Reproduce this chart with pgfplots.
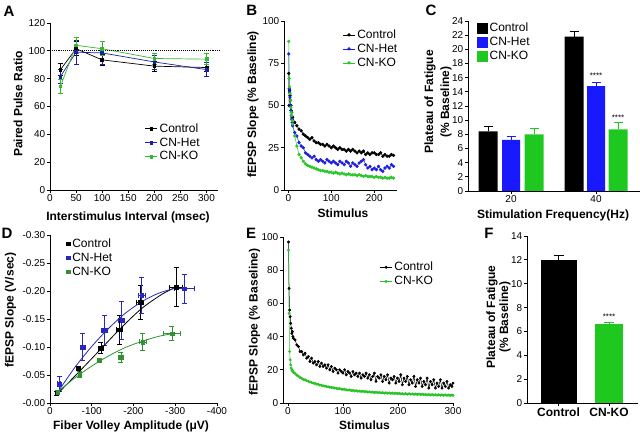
\documentclass[border=0pt]{standalone}
\usepackage{fontspec}
\setmainfont{Liberation Sans}
\usepackage{pgfplots}
\pgfplotsset{compat=1.18}
\definecolor{hetA}{RGB}{30,30,160}
\definecolor{koA}{RGB}{50,185,50}
\definecolor{hetB}{RGB}{30,30,225}
\definecolor{koB}{RGB}{40,200,40}
\definecolor{hetC}{RGB}{25,25,255}
\definecolor{koC}{RGB}{30,200,30}
\definecolor{hetD}{RGB}{40,40,190}
\definecolor{koD}{RGB}{50,145,50}
\definecolor{koE}{RGB}{40,195,40}
\pgfplotsset{
  prism/.style={
    scale only axis, anchor=south west,
    axis lines=left,
    axis line style={-, line width=0.9pt},
    tick align=outside,
    major tick length=3pt,
    every tick/.style={black, line width=0.9pt},
    tick label style={font=\fontsize{10}{12}\selectfont, inner sep=1.5pt},
    /pgf/number format/assume math mode=true,
    legend style={draw=none, fill=none, font=\fontsize{12}{13.5}\selectfont, inner sep=0pt, outer sep=0pt, row sep=0pt},
    legend cell align=left,
    clip=false,
    error bars/error mark=|,
    error bars/error bar style={line width=0.8pt},
    error bars/error mark options={line width=0.8pt, mark size=2.5pt},
  },
}
\newcommand{\lab}{\fontsize{12}{14}\selectfont\bfseries}
\newcommand{\pl}{\fontsize{15}{16}\selectfont\bfseries}
\begin{document}
\begin{tikzpicture}
\useasboundingbox (0pt,0pt) rectangle (640pt,434pt);
%%%%%%%%%%%%%%%% A
\begin{axis}[prism, at={(50pt,244pt)}, width=168pt, height=167pt,
  xmin=0, xmax=322, ymin=0, ymax=120,
  xtick={0,50,...,300}, ytick={0,20,...,120},
  legend style={at={(0.565,0.41)}, anchor=north west},
  legend image code/.code={\draw[mark repeat=2,mark phase=2,#1] plot coordinates {(0pt,0pt) (6pt,0pt) (12pt,0pt)};}]
\addplot[black, line width=0.7pt, mark=square*, mark size=1.4pt, error bars/.cd, y dir=both, y explicit]
 coordinates {(20,86.5) +- (0,4.5) (50,101.5) +- (0,5) (100,93.5) +- (0,4) (200,89) +- (0,3.5) (300,88) +- (0,2.5)};
\addplot[hetA, line width=0.7pt, mark=square*, mark size=1.4pt, error bars/.cd, y dir=both, y explicit]
 coordinates {(20,81.5) +- (0,5) (50,99) +- (0,8.5) (100,98.5) +- (0,8.5) (200,92) +- (0,5) (300,86.5) +- (0,5)};
\addplot[koA, line width=0.7pt, mark=square*, mark size=1.4pt, error bars/.cd, y dir=both, y explicit]
 coordinates {(20,74.5) +- (0,5) (50,104) +- (0,6) (100,101.5) +- (0,5) (200,94.5) +- (0,4) (300,94) +- (0,4)};
\addplot[black, densely dotted, line width=0.9pt, forget plot] coordinates {(0,100) (325,100)};
\legend{Control,CN-Het,CN-KO}
\end{axis}
%%%%%%%%%%%%%%%% B
\begin{axis}[prism, at={(284pt,244pt)}, width=113pt, height=169pt,
  xmin=-10, xmax=253, ymin=0, ymax=100,
  xtick={0,100,200}, ytick={0,25,50,75,100},
  legend style={at={(0.52,0.96)}, anchor=north west},
  legend image code/.code={\draw[mark repeat=2,mark phase=2,#1] plot coordinates {(0pt,0pt) (6pt,0pt) (12pt,0pt)};}]
\addplot[black, line width=0.5pt, mark=*, mark size=1.4pt] coordinates {
(1,69) (2,50) (3,59) (4,56) (5,53) (6,50) (7,47) (8,46) (9,43) (10,43) (15,40) (20,38) (25,36) (30,35) (35,33) (40,32) (45,31) (50,30) (55,31) (60,29) (65,28) (70,28) (75,27) (80,27) (85,26) (90,27) (95,26) (100,25) (105,26) (110,25) (115,24) (120,25) (125,24) (130,24) (135,23) (140,24) (145,23) (150,24) (155,23) (160,22) (165,23) (170,22) (175,23) (180,21) (185,22) (190,21) (195,22) (200,22) (205,21) (210,21) (215,22) (220,20) (225,21) (230,20) (235,20) (240,21) (245,20.5)};
\addplot[hetB, line width=0.5pt, mark=*, mark size=1.4pt] coordinates {
(1,80.5) (2,60) (3,58) (4,55) (5,50) (6,47) (7,44) (8,42) (9,40) (10,38) (15,34) (20,32) (25,28) (30,26) (35,25) (40,22) (45,21) (50,20) (55,19) (60,20) (65,18) (70,17) (75,18) (80,17) (85,16) (90,18) (95,17) (100,16) (105,17) (110,16) (115,15) (120,17) (125,16) (130,15) (135,17) (140,16) (145,14) (150,16) (155,15) (160,14) (165,16) (170,17) (175,18) (180,15) (185,13) (190,14) (195,12) (200,13) (205,12) (210,14) (215,12) (220,11) (225,13) (230,14) (235,13) (240,15) (245,14)};
\addplot[koB, line width=0.5pt, mark=*, mark size=1.4pt] coordinates {
(1,88) (2,66) (3,61) (4,57) (5,53) (6,49) (7,46) (8,44) (9,41) (10,39) (15,32) (20,26) (25,21) (30,19) (35,17) (40,15.5) (45,14.5) (50,14) (55,13.5) (60,13) (65,12.5) (70,12) (75,11.5) (80,11.5) (85,11) (90,11) (95,10.5) (100,10.5) (105,10) (110,10.5) (115,10) (120,9.5) (125,10) (130,9.5) (135,9) (140,9.5) (145,9) (150,9) (155,9) (160,8.5) (165,9) (170,8.5) (175,8) (180,8.5) (185,8) (190,8) (195,8) (200,7.5) (205,8) (210,7.5) (215,7.5) (220,7) (225,7.5) (230,7) (235,7) (240,7.5) (245,7)};
\legend{Control,CN-Het,CN-KO}
\end{axis}
%%%%%%%%%%%%%%%% C
\begin{axis}[prism, at={(468pt,243pt)}, width=172pt, height=170pt,
  xmin=0, xmax=172, ymin=0, ymax=24,
  xtick={43,128}, xticklabels={20,40}, ytick={0,2,...,24},
  legend style={at={(0.05,1.0)}, anchor=north west}]
\addplot[ybar, bar width=19, bar shift=0pt, fill=black, draw=none,
  legend image code/.code={\fill[black] (0pt,-5.5pt) rectangle (11pt,5.5pt);},
  error bars/.cd, y dir=plus, y explicit, error bar style={black, line width=0.8pt}, error mark options={black, line width=0.8pt, mark size=4.5pt}]
 coordinates {(20,8.4) +- (0,0.7) (106,21.8) +- (0,0.7)};
\addplot[ybar, bar width=18, bar shift=0pt, fill=hetC, draw=none,
  legend image code/.code={\fill[hetC] (0pt,-5.5pt) rectangle (11pt,5.5pt);},
  error bars/.cd, y dir=plus, y explicit, error bar style={hetC, line width=0.8pt}, error mark options={hetC, line width=0.8pt, mark size=4.5pt}]
 coordinates {(43,7.2) +- (0,0.45) (128,14.8) +- (0,0.6)};
\addplot[ybar, bar width=19, bar shift=0pt, fill=koC, draw=none,
  legend image code/.code={\fill[koC] (0pt,-5.5pt) rectangle (11pt,5.5pt);},
  error bars/.cd, y dir=plus, y explicit, error bar style={koC, line width=0.8pt}, error mark options={koC, line width=0.8pt, mark size=4.5pt}]
 coordinates {(66,8.0) +- (0,0.8) (150,8.7) +- (0,1.0)};
\node[font=\fontsize{8}{8}\selectfont] at (axis cs:128,16.3) {****};
\node[font=\fontsize{8}{8}\selectfont] at (axis cs:150,10.4) {****};
\legend{Control,CN-Het,CN-KO}
\end{axis}
%%%%%%%%%%%%%%%% D
\begin{axis}[prism, at={(50pt,31pt)}, width=167pt, height=168pt,
  x dir=reverse, y dir=reverse,
  xmin=-400, xmax=0, ymin=-0.30, ymax=0,
  xtick={0,-100,-200,-300,-400}, xticklabels={0,-100,-200,-300,-400},
  ytick={0,-0.05,-0.10,-0.15,-0.20,-0.25,-0.30},
  yticklabels={-0.00,-0.05,-0.10,-0.15,-0.20,-0.25,-0.30},
  legend style={at={(0.10,0.99)}, anchor=north west},
  legend image code/.code={\draw[#1] plot coordinates {(3pt,0pt)};}]
\addplot[black, only marks, mark=square*, mark size=1.8pt, error bars/.cd, x dir=both, x explicit, y dir=both, y explicit, error mark options={black, line width=0.8pt, mark size=2.5pt}]
 coordinates {(-16,-0.017) +- (3,0.003) (-68,-0.062) +- (4,0.004) (-122,-0.098) +- (6,0.010) (-166,-0.131) +- (7,0.026) (-216,-0.180) +- (8,0.030) (-302,-0.207) +- (15,0.035)};
\addplot[hetD, only marks, mark=square*, mark size=1.8pt, error bars/.cd, x dir=both, x explicit, y dir=both, y explicit, error mark options={hetD, line width=0.8pt, mark size=2.5pt}]
 coordinates {(-22,-0.034) +- (4,0.013) (-78,-0.100) +- (6,0.024) (-130,-0.130) +- (7,0.027) (-172,-0.148) +- (7,0.034) (-220,-0.192) +- (8,0.032) (-322,-0.204) +- (25,0.026)};
\addplot[koD, only marks, mark=square*, mark size=1.8pt, error bars/.cd, x dir=both, x explicit, y dir=both, y explicit, error mark options={koD, line width=0.8pt, mark size=2.5pt}]
 coordinates {(-18,-0.019) +- (3,0.003) (-71,-0.051) +- (4,0.005) (-118,-0.076) +- (5,0.004) (-170,-0.082) +- (5,0.009) (-222,-0.109) +- (8,0.015) (-292,-0.124) +- (20,0.013)};
\addplot[black, line width=0.8pt, smooth, forget plot] coordinates {(-20,-0.018) (-70,-0.056) (-120,-0.095) (-170,-0.134) (-220,-0.169) (-270,-0.195) (-300,-0.206)};
\addplot[hetD, line width=0.8pt, smooth, forget plot] coordinates {(-20,-0.021) (-60,-0.064) (-100,-0.101) (-140,-0.133) (-180,-0.160) (-220,-0.181) (-260,-0.196) (-300,-0.205)};
\addplot[koD, line width=0.8pt, smooth, forget plot] coordinates {(-20,-0.021) (-60,-0.045) (-100,-0.066) (-140,-0.084) (-180,-0.099) (-220,-0.110) (-260,-0.119) (-295,-0.124)};
\legend{Control,CN-Het,CN-KO}
\end{axis}
%%%%%%%%%%%%%%%% E
\begin{axis}[prism, at={(283pt,31pt)}, width=170pt, height=166pt,
  xmin=-9, xmax=300, ymin=0, ymax=100,
  xtick={0,100,200,300}, ytick={0,20,...,100},
  legend style={at={(0.57,0.86)}, anchor=north west},
  legend image code/.code={\draw[mark repeat=2,mark phase=2,#1] plot coordinates {(0pt,0pt) (6pt,0pt) (12pt,0pt)};}]
\addplot[black, line width=0.5pt, mark=*, mark size=1.2pt] coordinates {
(1,97) (2,69) (3,56) (4,52) (5,48) (6,45) (7,42) (8,43) (9,40) (10,39) (13,38) (16,35) (19,34) (22,31) (25,31) (28,29) (31,30) (34,27) (37,28) (40,25) (43,27) (46,24) (49,25) (52,23) (55,25) (58,22) (61,24) (64,22) (67,23) (70,21) (73,23) (76,20) (79,22) (82,19) (85,21) (88,20) (91,18) (94,20) (97,19) (100,18) (103,20) (106,17) (109,19) (112,18) (115,16) (118,19) (121,17) (124,18) (127,16) (130,18) (133,15) (136,17) (139,16) (142,18) (145,15) (148,17) (151,14) (154,16) (157,18) (160,13) (163,16) (166,15) (169,17) (172,13) (175,16) (178,14) (181,17) (184,12) (187,15) (190,14) (193,16) (196,12) (199,15) (202,13) (205,17) (208,11) (211,15) (214,13) (217,16) (220,11) (223,14) (226,12) (229,16) (232,10) (235,14) (238,12) (241,15) (244,10) (247,13) (250,11) (253,15) (256,9) (259,13) (262,11) (265,14) (268,9) (271,12) (274,10) (277,14) (280,9) (283,12) (286,10) (289,13) (292,9) (295,11) (298,10) (300,12)};
\addplot[koE, line width=0.5pt, mark=*, mark size=1.2pt] coordinates {
(1,92) (2,54) (3,31) (4,26) (5,23) (6,21) (7,20) (8,19.5) (9,19) (10,18.5) (13,17.8) (16,16.8) (19,16.2) (22,15.3) (25,14.9) (28,14.2) (31,14.0) (34,13.4) (37,13.1) (40,12.7) (43,12.4) (46,12.0) (49,11.8) (52,11.4) (55,11.2) (58,10.8) (61,10.7) (64,10.3) (67,10.2) (70,9.9) (73,9.8) (76,9.5) (79,9.4) (82,9.2) (85,9.0) (88,8.9) (91,8.6) (94,8.7) (97,8.3) (100,8.2) (103,8.3) (106,7.9) (109,7.8) (112,7.9) (115,7.5) (118,7.6) (121,7.3) (124,7.4) (127,7.1) (130,7.2) (133,6.9) (136,7.1) (139,6.8) (142,6.9) (145,6.6) (148,6.8) (151,6.5) (154,6.6) (157,6.3) (160,6.5) (163,6.2) (166,6.4) (169,6.1) (172,6.3) (175,6.0) (178,6.2) (181,5.9) (184,6.1) (187,5.8) (190,6.0) (193,5.7) (196,5.9) (199,5.6) (202,5.8) (205,5.5) (208,5.7) (211,5.4) (214,5.7) (217,5.3) (220,5.6) (223,5.3) (226,5.5) (229,5.2) (232,5.4) (235,5.1) (238,5.4) (241,5.0) (244,5.3) (247,5.0) (250,5.2) (253,4.9) (256,5.2) (259,4.8) (262,5.1) (265,4.8) (268,5.0) (271,4.7) (274,5.0) (277,4.7) (280,4.9) (283,4.6) (286,4.9) (289,4.6) (292,4.8) (295,4.5) (298,4.8) (300,4.6)};
\legend{Control,CN-KO}
\end{axis}
%%%%%%%%%%%%%%%% F
\begin{axis}[prism, at={(527pt,31pt)}, width=111pt, height=167pt,
  xmin=0, xmax=111, ymin=0, ymax=14,
  xtick={31.5,82}, xticklabels={Control,CN-KO}, ytick={0,2,...,14},
  xticklabel style={font=\fontsize{12}{14}\selectfont\bfseries}]
\addplot[ybar, bar width=36, bar shift=0pt, fill=black, draw=none,
  error bars/.cd, y dir=plus, y explicit, error bar style={black, line width=0.8pt}, error mark options={black, line width=0.8pt, mark size=5pt}]
 coordinates {(31.5,12.0) +- (0,0.35)};
\addplot[ybar, bar width=28, bar shift=0pt, fill=koC, draw=none,
  error bars/.cd, y dir=plus, y explicit, error bar style={koC, line width=0.8pt}, error mark options={koC, line width=0.8pt, mark size=5pt}]
 coordinates {(82,6.6) +- (0,0.15)};
\node[font=\fontsize{8}{8}\selectfont] at (axis cs:82,7.25) {****};
\end{axis}
%%%%%%%%%%%%%%%% labels
\node[font=\pl] at (9pt,423pt) {A};
\node[font=\pl] at (251.7pt,423.7pt) {B};
\node[font=\pl] at (431pt,424pt) {C};
\node[font=\pl] at (7pt,201pt) {D};
\node[font=\pl] at (251pt,200.5pt) {E};
\node[font=\pl] at (489pt,201pt) {F};
\node[font=\lab, rotate=90] at (18pt,330pt) {Paired Pulse Ratio};
\node[font=\lab] at (128pt,217pt) {Interstimulus Interval (msec)};
\node[font=\lab, rotate=90] at (253pt,329.5pt) {fEPSP Slope (\% Baseline)};
\node[font=\lab] at (343pt,221pt) {Stimulus};
\node[font=\lab, rotate=90] at (430pt,332pt) {Plateau of Fatigue};
\node[font=\lab, rotate=90] at (446pt,332pt) {(\% Baseline)};
\node[font=\lab] at (553pt,219pt) {Stimulation Frequency(Hz)};
\node[font=\lab, rotate=90] at (10.5pt,124pt) {fEPSP Slope (V/sec)};
\node[font=\lab] at (131pt,8pt) {Fiber Volley Amplitude (μV)};
\node[font=\lab, rotate=90] at (254.5pt,112pt) {fEPSP Slope (\% Baseline)};
\node[font=\lab] at (364.5pt,9pt) {Stimulus};
\node[font=\lab, rotate=90] at (492pt,117pt) {Plateau of Fatigue};
\node[font=\lab, rotate=90] at (505pt,117pt) {(\% Baseline)};
\end{tikzpicture}
\end{document}
